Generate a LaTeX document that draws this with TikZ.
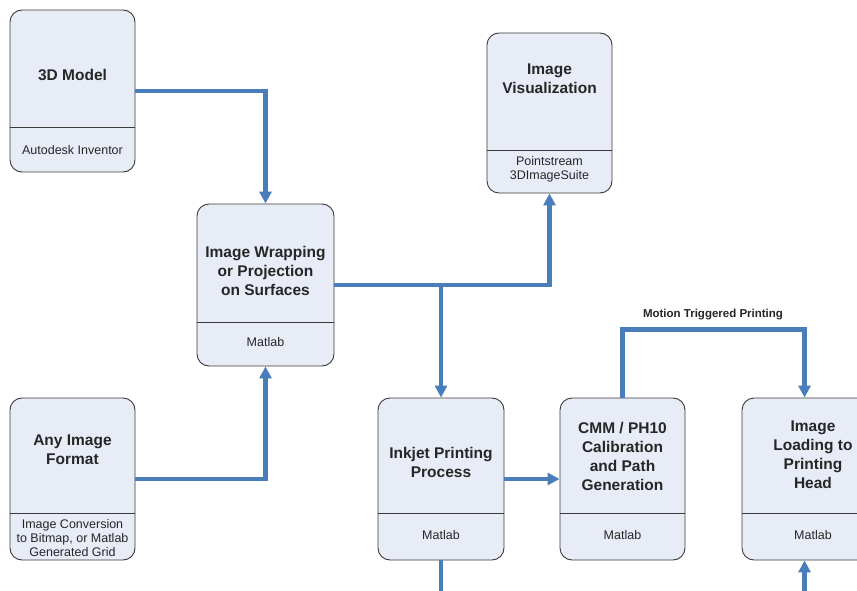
\documentclass[tikz,border=0pt]{standalone}
\usepackage{fontspec}
\setmainfont{Liberation Sans}
\usetikzlibrary{arrows.meta,calc}
\definecolor{flow}{HTML}{4A7EBB}
\definecolor{boxfill}{HTML}{E8ECF7}
\definecolor{boxline}{HTML}{3A3A3A}
\begin{document}
\begin{tikzpicture}[x=1pt,y=-1pt,
  box/.style={draw=boxline, line width=0.9pt, fill=boxfill, rounded corners=12pt, inner sep=0pt, minimum height=162pt},
  ttl/.style={font=\fontsize{15.5}{19}\selectfont\bfseries, align=center, text=black!85, inner sep=0pt},
  sub/.style={font=\fontsize{12.5}{14}\selectfont, align=center, text=black!85, inner sep=0pt},
  divline/.style={draw=boxline, line width=0.9pt},
  flowline/.style={draw=flow, line width=4.5pt, -{Triangle[length=12pt,width=12pt]}},
  lbl/.style={font=\fontsize{11.5}{13}\selectfont\bfseries, text=black!85, inner sep=0pt}
]
\useasboundingbox (0,0) rectangle (857,591);
\fill[white] (0,0) rectangle (857,591);
\clip (0,0) rectangle (857,591);

% boxes
\node[box, minimum width=125pt] (m3d) at (72.5,91) {};
\node[box, minimum width=137pt] (wrap) at (265.5,285) {};
\node[box, minimum width=125pt, minimum height=160pt] (vis) at (549.5,113) {};
\node[box, minimum width=125pt] (any) at (72.5,479) {};
\node[box, minimum width=126pt] (inkjet) at (441,479) {};
\node[box, minimum width=125pt] (cmm) at (622.5,479) {};
\node[box, minimum width=142pt] (load) at (813,479) {};

% dividers
\draw[divline] (m3d.west |- 0,127) -- (m3d.east |- 0,127);
\draw[divline] (wrap.west |- 0,322) -- (wrap.east |- 0,322);
\draw[divline] (vis.west |- 0,150) -- (vis.east |- 0,150);
\draw[divline] (any.west |- 0,513) -- (any.east |- 0,513);
\draw[divline] (inkjet.west |- 0,513) -- (inkjet.east |- 0,513);
\draw[divline] (cmm.west |- 0,513) -- (cmm.east |- 0,513);
\draw[divline] (load.west |- 0,513) -- (load.east |- 0,513);

% texts
\node[ttl] (m3dT) at (72.5,75) {3D Model};
\node[sub] (m3dS) at (72.5,150) {Autodesk Inventor};
\node[ttl] (wrapT) at (265.5,271) {Image Wrapping\\or Projection\\on Surfaces};
\node[sub] (wrapS) at (265.5,342) {Matlab};
\node[ttl] (visT) at (549.5,79) {Image\\Visualization};
\node[sub] (visS) at (549.5,169) {Pointstream\\3DImageSuite};
\node[ttl] (anyT) at (72.5,450) {Any Image\\Format};
\node[sub] (anyS) at (72.5,538) {Image Conversion\\to Bitmap, or Matlab\\Generated Grid};
\node[ttl] (inkjetT) at (441,462.5) {Inkjet Printing\\Process};
\node[sub] (inkjetS) at (441,535) {Matlab};
\node[ttl] (cmmT) at (622.5,456) {CMM / PH10\\Calibration\\and Path\\Generation};
\node[sub] (cmmS) at (622.5,535) {Matlab};
\node[ttl] (loadT) at (813,455) {Image\\Loading to\\Printing\\Head};
\node[sub] (loadS) at (813,535) {Matlab};

% connectors
\coordinate (loadtop) at ($(load.north west)+(63,0)$);
\coordinate (loadbot) at ($(load.south west)+(63,0)$);
\draw[flowline] (m3d.east) -| (wrap.north);
\draw[flowline] (any.east) -| (wrap.south);
\draw[flowline] (wrap.east) -| (vis.south);
\draw[flowline] (wrap.east -| inkjet.north) -- (inkjet.north);
\draw[flowline] (inkjet.east) -- (cmm.west);
\draw[flowline] (cmm.north) -- ++(0,-68) -| (loadtop);
\node[lbl] (mtl) at (713,315) {Motion Triggered Printing};
\draw[flowline] (inkjet.south) -- ++(0,50) -| (loadbot);
\end{tikzpicture}
\end{document}
